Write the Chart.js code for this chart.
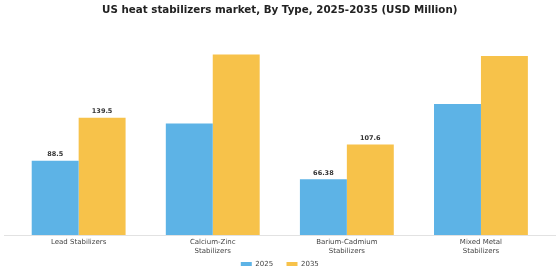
<!DOCTYPE html>
<html>
<head>
<meta charset="utf-8">
<script src="https://cdn.jsdelivr.net/npm/chart.js@4/dist/chart.umd.min.js"></script>
<style>
    html, body { margin: 0; padding: 0; background: #fff; }
    #wrap { width: 560px; height: 280px; }
</style>
</head>
<body>
<div id="wrap"><canvas id="chart-estabilizadores"></canvas></div>
<script>
const categorias = ['Lead Stabilizers', ['Calcium-Zinc', 'Stabilizers'], ['Barium-Cadmium', 'Stabilizers'], ['Mixed Metal', 'Stabilizers']];
const valores2025 = [88.5, 132.8, 66.38, 155.8];
const valores2035 = [139.5, 214.8, 107.6, 212.9];
const etiquetas2025 = ['88.5', null, '66.38', null];
const etiquetas2035 = ['139.5', null, '107.6', null];

const fuente = "'DejaVu Sans', sans-serif";

// linea base, etiquetas de categoria y valores encima de algunas barras
const pluginEtiquetas = {
    id: 'etiquetas',
    afterDatasetsDraw(chart) {
        const ctx = chart.ctx;
        const area = chart.chartArea;
        const ejeX = chart.scales.x;
        ctx.save();
        ctx.strokeStyle = '#e2e2e2';
        ctx.lineWidth = 1;
        ctx.beginPath();
        ctx.moveTo(4, area.bottom + 0.5);
        ctx.lineTo(556, area.bottom + 0.5);
        ctx.stroke();

        // nombres de categoria (el eje queda bajo para dejar sitio a la leyenda)
        ctx.font = "7px " + fuente;
        ctx.fillStyle = '#444';
        ctx.textAlign = 'center';
        ctx.textBaseline = 'top';
        categorias.forEach((cat, i) => {
            const lineas = Array.isArray(cat) ? cat : [cat];
            const x = ejeX.getPixelForTick(i);
            lineas.forEach((txt, k) => ctx.fillText(txt, x, area.bottom + 4 + k * 8.2));
        });

        ctx.font = "bold 6.5px " + fuente;
        ctx.fillStyle = '#333';
        ctx.textBaseline = 'bottom';
        [etiquetas2025, etiquetas2035].forEach((etq, i) => {
            const meta = chart.getDatasetMeta(i);
            meta.data.forEach((bar, j) => {
                if (etq[j]) ctx.fillText(etq[j], bar.x, bar.y - 3);
            });
        });
        ctx.restore();
    }
};

const ctx = document.getElementById('chart-estabilizadores').getContext('2d');
new Chart(ctx, {
    type: 'bar',
    data: {
        labels: categorias,
        datasets: [
            { label: '2025', data: valores2025, backgroundColor: '#5DB3E6', categoryPercentage: 0.7, barPercentage: 1.0 },
            { label: '2035', data: valores2035, backgroundColor: '#F7C24A', categoryPercentage: 0.7, barPercentage: 1.0 }
        ]
    },
    options: {
        responsive: true,
        maintainAspectRatio: false,
        animation: false,
        layout: { padding: { left: 11.6, right: 12, top: 0, bottom: 2.5 } },
        plugins: {
            title: {
                display: true,
                text: 'US heat stabilizers market, By Type, 2025-2035 (USD Million)',
                color: '#222',
                font: { family: fuente, size: 10.3, weight: 'bold' },
                padding: { top: 4.3, bottom: 13.3 }
            },
            legend: {
                position: 'bottom',
                labels: {
                    color: '#444',
                    font: { family: fuente, size: 7 },
                    boxWidth: 11,
                    boxHeight: 4,
                    padding: 13.4
                }
            },
            tooltip: { enabled: false }
        },
        scales: {
            y: { display: false, min: 0, max: 244 },
            x: {
                grid: { display: false },
                border: { display: false },
                ticks: { display: false },
                afterFit: (escala) => { escala.height = 12.1; }
            }
        }
    },
    plugins: [pluginEtiquetas]
});
</script>
</body>
</html>
